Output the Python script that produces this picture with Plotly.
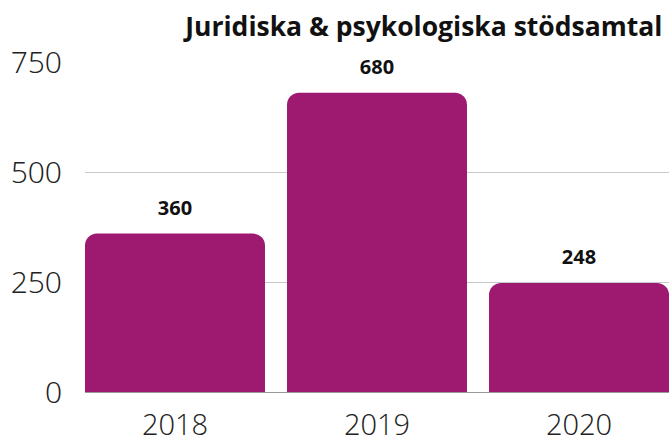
import plotly.graph_objects as go

years = ["2018", "2019", "2020"]
values = [360, 680, 248]
y_ticks = [0, 250, 500, 750]
title_text = "Juridiska & psykologiska stödsamtal"

bar_color = "#9d1a70"

fig = go.Figure()
fig.add_trace(go.Bar(
    x=years, y=values,
    marker=dict(color=bar_color, line=dict(width=0)),
    hoverinfo="skip",
))
fig.add_trace(go.Scatter(
    x=years, y=values, mode="markers+text",
    marker=dict(size=20, opacity=0, color=bar_color),
    text=[f"<b>{v}</b>" for v in values],
    textposition="top center",
    textfont=dict(family="Open Sans", size=20, color="#111111"),
    cliponaxis=False, hoverinfo="skip",
))

fig.update_layout(
    width=669, height=443,
    margin=dict(l=85, r=0, t=62, b=47),
    paper_bgcolor="white", plot_bgcolor="white",
    showlegend=False,
    bargap=0.109,
    barcornerradius=12,
    title=dict(
        text=f"<b>{title_text}</b>",
        x=0.99, xref="container", xanchor="right",
        y=1 - 27 / 443, yref="container", yanchor="middle",
        font=dict(family="Open Sans", size=26.5, color="#111111"),
    ),
    xaxis=dict(
        type="category",
        range=[-0.4455, 2.4455],
        showgrid=False, showline=False, zeroline=False,
        ticks="", ticklabelstandoff=13,
        tickfont=dict(family="Open Sans Light, Open Sans", size=29, color="#222222", weight=300),
        fixedrange=True,
    ),
    yaxis=dict(
        range=[0, 750],
        tickvals=y_ticks,
        showgrid=True, gridcolor="#c8c8c8", gridwidth=1,
        zeroline=True, zerolinecolor="#999999", zerolinewidth=1,
        showline=False, ticks="", ticklabelstandoff=22,
        tickfont=dict(family="Open Sans Light, Open Sans", size=30, color="#222222", weight=300),
        fixedrange=True,
    ),
)

fig.write_html(
    "out.html",
    config={"displayModeBar": False},
    post_script="document.body.style.margin='0';document.body.style.overflow='hidden';",
)
